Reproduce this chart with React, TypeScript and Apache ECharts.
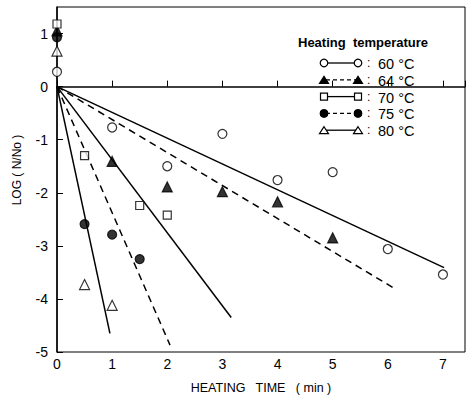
import React, { useEffect, useRef } from "react";
import * as echarts from "echarts";

const time60 = [0, 1, 2, 3, 4, 5, 6, 7];
const vals60 = [0.28, -0.77, -1.5, -0.89, -1.76, -1.61, -3.06, -3.54];
const time64 = [0, 1, 2, 3, 4, 5];
const vals64 = [1.05, -1.41, -1.89, -1.98, -2.17, -2.85];
const time70 = [0, 0.5, 1.5, 2];
const vals70 = [1.18, -1.3, -2.24, -2.42];
const time75 = [0, 0.5, 1, 1.5];
const vals75 = [0.93, -2.59, -2.79, -3.25];
const time80 = [0, 0.5, 1];
const vals80 = [0.67, -3.73, -4.12];

const fitEnd60 = [7.02, -3.41];
const fitEnd64 = [6.1, -3.79];
const fitEnd70 = [3.16, -4.35];
const fitEnd75 = [2.05, -4.87];
const fitEnd80 = [0.96, -4.65];

const legendLabels = ["60 °C", "64 °C", "70 °C", "75 °C", "80 °C"];
const xTicks = [0, 1, 2, 3, 4, 5, 6, 7];

const FONT = "Liberation Sans, Arial, sans-serif";

const zip = (xs: number[], ys: number[]) => xs.map((x, i) => [x, ys[i]]);

type Mk = { symbol: string; filled: boolean; size: number; dashed: boolean };
const markers: Mk[] = [
  { symbol: "circle", filled: false, size: 9, dashed: false },
  { symbol: "triangle", filled: true, size: 10, dashed: true },
  { symbol: "rect", filled: false, size: 8, dashed: false },
  { symbol: "circle", filled: true, size: 9, dashed: true },
  { symbol: "triangle", filled: false, size: 10, dashed: false },
];

function legendMarker(m: Mk, cx: number, cy: number): any {
  const style = {
    fill: m.filled ? "#000" : "#fff",
    stroke: "#000",
    lineWidth: 1.2,
  };
  if (m.symbol === "circle") {
    return { type: "circle", shape: { cx, cy, r: 3.8 }, style, z: 110 };
  }
  if (m.symbol === "rect") {
    return { type: "rect", shape: { x: cx - 3.5, y: cy - 3.5, width: 7, height: 7 }, style, z: 110 };
  }
  return {
    type: "polygon",
    shape: { points: [[cx, cy - 3.5], [cx + 4.5, cy + 3.5], [cx - 4.5, cy + 3.5]] },
    style,
    z: 110,
  };
}

export default function App() {
  const ref = useRef<HTMLDivElement>(null);
  useEffect(() => {
    document.body.style.margin = "0";
    const chart = echarts.init(ref.current!, null, { renderer: "svg" });
    const pts = [
      zip(time60, vals60),
      zip(time64, vals64),
      zip(time70, vals70),
      zip(time75, vals75),
      zip(time80, vals80),
    ];
    const fits = [fitEnd60, fitEnd64, fitEnd70, fitEnd75, fitEnd80];

    const series: any[] = [];
    fits.forEach((end, i) => {
      series.push({
        type: "line",
        data: [[0, 0], end],
        symbol: "none",
        lineStyle: {
          color: "#000",
          width: 1.5,
          type: markers[i].dashed ? [7, 5] : "solid",
        },
        z: 2,
        silent: true,
      });
    });
    pts.forEach((d, i) => {
      const m = markers[i];
      series.push({
        type: "scatter",
        data: d,
        symbol: m.symbol,
        symbolSize: m.size,
        clip: false,
        itemStyle: {
          color: m.filled ? "#000" : "#fff",
          borderColor: "#000",
          borderWidth: 1.2,
        },
        z: 5,
      });
    });

    const graphics: any[] = [
      {
        type: "text",
        x: 298,
        y: 42,
        style: {
          text: "Heating  temperature",
          font: `bold 13px ${FONT}`,
          fill: "#000",
          textVerticalAlign: "middle",
        },
      },
      {
        type: "text",
        x: 17,
        y: 170,
        rotation: Math.PI / 2,
        style: {
          text: "LOG ( N/No )",
          font: `12px ${FONT}`,
          fill: "#000",
          textAlign: "center",
          textVerticalAlign: "middle",
        },
      },
    ];
    legendLabels.forEach((lab, i) => {
      const y = 63 + 16.8 * i;
      const m = markers[i];
      graphics.push({
        type: "line",
        shape: { x1: 326, y1: y, x2: 356, y2: y },
        style: { stroke: "#000", lineWidth: 1.3, lineDash: m.dashed ? [4, 3] : null },
        z: 100,
      });
      graphics.push(legendMarker(m, 324, y));
      graphics.push(legendMarker(m, 358, y));
      graphics.push({
        type: "text",
        x: 367,
        y,
        style: { text: ":", font: `12px ${FONT}`, fill: "#000", textVerticalAlign: "middle" },
      });
      graphics.push({
        type: "text",
        x: 378,
        y: y + 1,
        style: { text: lab, font: `14.5px ${FONT}`, fill: "#000", textVerticalAlign: "middle" },
      });
    });

    chart.setOption({
      animation: false,
      backgroundColor: "#fff",
      grid: {
        left: 57,
        right: 1,
        top: 7,
        bottom: 44,
        show: true,
        borderColor: "#000",
        borderWidth: 1,
      },
      xAxis: {
        type: "value",
        min: 0,
        max: 7.4,
        interval: 1,
        name: "HEATING   TIME   ( min )",
        nameLocation: "middle",
        nameGap: 29,
        nameTextStyle: { fontFamily: FONT, fontSize: 12.5, color: "#000" },
        axisLine: { show: true, lineStyle: { color: "#000", width: 1.5 } },
        axisTick: { show: true, inside: true, length: 6, lineStyle: { color: "#000" } },
        axisLabel: {
          color: "#000",
          fontFamily: FONT,
          fontSize: 14,
          margin: 5,
          customValues: xTicks,
        },
        splitLine: { show: false },
      },
      yAxis: {
        type: "value",
        min: -5,
        max: 1.5,
        interval: 1,
        axisLine: { show: true, lineStyle: { color: "#000", width: 1.5 } },
        axisTick: { show: true, inside: true, length: 6, lineStyle: { color: "#000" } },
        axisLabel: {
          color: "#000",
          fontFamily: FONT,
          fontSize: 14,
          margin: 9,
          showMaxLabel: false,
          formatter: (v: number) => (Number.isInteger(v) ? String(v) : ""),
        },
        splitLine: { show: false },
      },
      series,
      graphic: graphics,
    });
    return () => chart.dispose();
  }, []);
  return <div ref={ref} style={{ width: 466, height: 399 }} />;
}
